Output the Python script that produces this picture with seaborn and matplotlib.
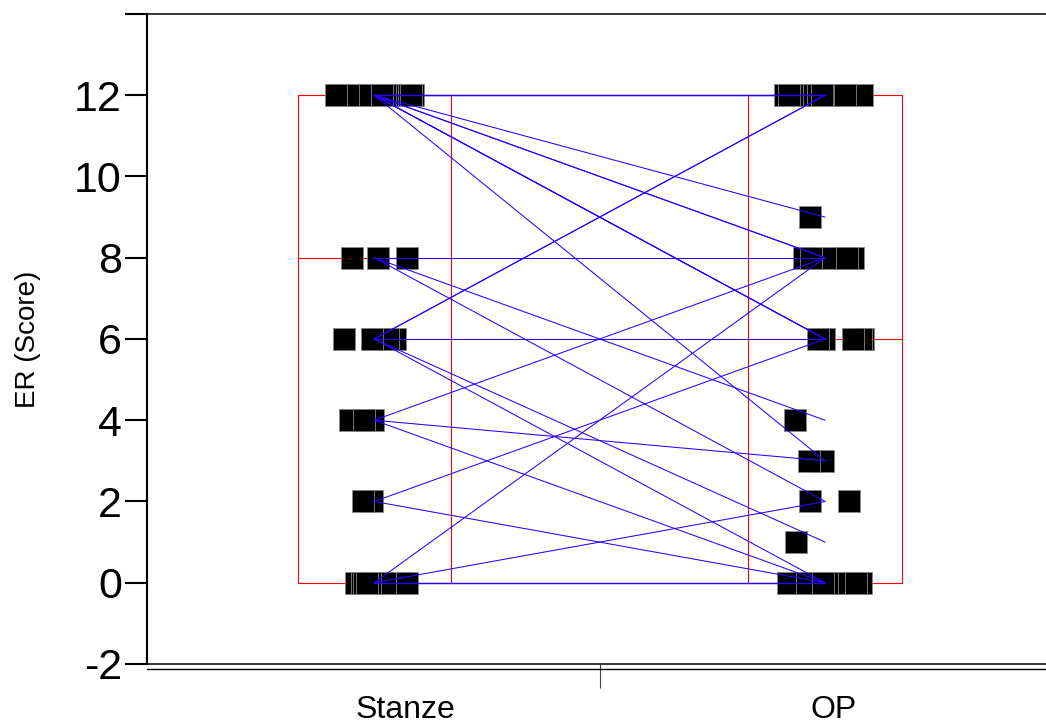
import numpy as np
import pandas as pd
import matplotlib
matplotlib.use('Agg')
import matplotlib.pyplot as plt
import seaborn as sns

# Data ER (Score) berpasangan: subjek ke-i -> stanze_er[i] dan op_er[i]
groups = ['Stanze', 'OP']
stanze_er = [12, 12, 12, 12, 12, 12, 12, 12, 12, 12, 12, 12, 12, 12, 12,
             12,
             12, 12,
             12, 12, 12,
             12,
             8, 8, 8,
             6, 6, 6, 6, 6,
             4, 4, 4,
             2, 2,
             0, 0,
             0, 0, 0, 0, 0, 0, 0, 0, 0, 0, 0]
op_er = [12, 12, 12, 12, 12, 12, 12, 12, 12, 12, 12, 12, 12, 12, 12,
         9,
         8, 8,
         6, 6, 6,
         3,
         8, 4, 2,
         12, 12, 6, 1, 0,
         8, 3, 0,
         6, 0,
         8, 2,
         0, 0, 0, 0, 0, 0, 0, 0, 0, 0, 0]
y_ticks = [-2, 0, 2, 4, 6, 8, 10, 12, 14]
y_ticklabels = ['-2', '0', '2', '4', '6', '8', '10', '12', '']

# Susun data panjang
n = len(stanze_er)
df = pd.DataFrame({
    'subject': list(range(n)) * 2,
    'group': ['Stanze'] * n + ['OP'] * n,
    'ER': stanze_er + op_er,
})
df['pos'] = df['group'].map({g: i for i, g in enumerate(groups)})

sns.set_style('white')
plt.rcParams['font.family'] = ['Liberation Sans', 'DejaVu Sans']
plt.rcParams['text.color'] = 'black'

fig, ax = plt.subplots(figsize=(10.46, 7.24), dpi=100)
fig.subplots_adjust(left=0.1405, right=1.0, top=0.9807, bottom=0.0829)

# Box (merah, tanpa isi)
sns.boxplot(data=df, x='group', y='ER', order=groups, width=0.34, fill=False,
            color='red', linewidth=0.8, whis=(0, 100), showcaps=False,
            showfliers=False, ax=ax)

# Titik kotak hitam dengan jitter
np.random.seed(7)
sns.stripplot(data=df, x='group', y='ER', order=groups, jitter=0.09, marker='s',
              size=16, color='black', edgecolor='#888888', linewidth=0.6,
              zorder=3, ax=ax)

# Garis pasangan
sns.lineplot(data=df, x='pos', y='ER', units='subject', estimator=None,
             color='#2a00ff', linewidth=0.75, zorder=4, legend=False, ax=ax)

ax.set_xlim(-0.504, 1.49)
ax.set_ylim(-2, 14)

ax.set_yticks(y_ticks, labels=y_ticklabels)
ax.tick_params(axis='y', direction='out', length=16, width=1.5, colors='black',
               labelsize=31, pad=2, left=True)

ax.set_xticks([0.07, 1.02], labels=groups)
ax.tick_params(axis='x', which='major', length=0, labelsize=23,
               labelcolor='black', pad=22)
ax.set_xticks([0.5], minor=True)
ax.tick_params(axis='x', which='minor', direction='out', length=17, width=0.8,
               color='#444444', bottom=True)

ax.set_xlabel('')
ax.set_ylabel('ER (Score)', fontsize=20, color='black')
ax.yaxis.set_label_coords(-0.118, 0.5)

ax.spines['right'].set_visible(False)
ax.spines['left'].set_linewidth(1.5)
ax.spines['top'].set_linewidth(1.1)
ax.spines['bottom'].set_linewidth(1.1)
for s in ax.spines.values():
    s.set_color('black')
# garis ganda di bawah
ax.plot([0, 1], [-0.007, -0.007], transform=ax.transAxes, color='black',
        linewidth=1.0, clip_on=False)

fig.savefig('out.png', dpi=100)
